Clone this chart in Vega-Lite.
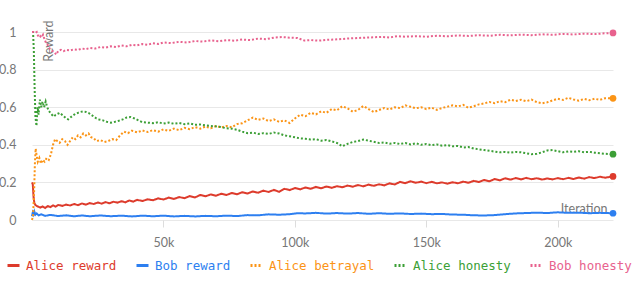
{
  "$schema": "https://vega.github.io/schema/vega-lite/v6.json",
  "width": 581,
  "height": 188,
  "autosize": {"type": "none"},
  "padding": {"left": 32, "top": 32, "right": 27, "bottom": 75},
  "background": "white",
  "config": {
    "view": {"stroke": null},
    "font": "Lato",
    "axis": {"labelColor": "#777777", "titleColor": "#777777", "labelFontSize": 12.5, "titleFontSize": 12.5, "titleFontWeight": "normal", "domain": false}
  },
  "data": {"values": [
    {"series":"Alice reward","it":0,"v":0.2},{"series":"Alice reward","it":300,"v":0.19},{"series":"Alice reward","it":600,"v":0.12},{"series":"Alice reward","it":900,"v":0.09},{"series":"Alice reward","it":1300,"v":0.08},{"series":"Alice reward","it":1800,"v":0.075},{"series":"Alice reward","it":2500,"v":0.07},{"series":"Alice reward","it":3200,"v":0.066},{"series":"Alice reward","it":4000,"v":0.072},{"series":"Alice reward","it":5000,"v":0.064},{"series":"Alice reward","it":6000,"v":0.074},{"series":"Alice reward","it":7000,"v":0.069},{"series":"Alice reward","it":8000,"v":0.078},{"series":"Alice reward","it":9000,"v":0.071},{"series":"Alice reward","it":10000,"v":0.08},{"series":"Alice reward","it":11500,"v":0.075},{"series":"Alice reward","it":13000,"v":0.082},{"series":"Alice reward","it":14500,"v":0.077},{"series":"Alice reward","it":16000,"v":0.085},{"series":"Alice reward","it":17500,"v":0.079},{"series":"Alice reward","it":19000,"v":0.088},{"series":"Alice reward","it":20500,"v":0.082},{"series":"Alice reward","it":22000,"v":0.09},{"series":"Alice reward","it":23500,"v":0.085},{"series":"Alice reward","it":25000,"v":0.093},{"series":"Alice reward","it":26500,"v":0.087},{"series":"Alice reward","it":28000,"v":0.095},{"series":"Alice reward","it":29500,"v":0.089},{"series":"Alice reward","it":31000,"v":0.097},{"series":"Alice reward","it":32500,"v":0.092},{"series":"Alice reward","it":34000,"v":0.1},{"series":"Alice reward","it":35500,"v":0.094},{"series":"Alice reward","it":37000,"v":0.104},{"series":"Alice reward","it":38500,"v":0.098},{"series":"Alice reward","it":40000,"v":0.107},{"series":"Alice reward","it":42000,"v":0.101},{"series":"Alice reward","it":44000,"v":0.11},{"series":"Alice reward","it":46000,"v":0.105},{"series":"Alice reward","it":48000,"v":0.115},{"series":"Alice reward","it":50000,"v":0.109},{"series":"Alice reward","it":52000,"v":0.119},{"series":"Alice reward","it":54000,"v":0.112},{"series":"Alice reward","it":56000,"v":0.122},{"series":"Alice reward","it":58000,"v":0.116},{"series":"Alice reward","it":60000,"v":0.127},{"series":"Alice reward","it":62000,"v":0.12},{"series":"Alice reward","it":64000,"v":0.133},{"series":"Alice reward","it":66000,"v":0.126},{"series":"Alice reward","it":68000,"v":0.136},{"series":"Alice reward","it":70000,"v":0.129},{"series":"Alice reward","it":72000,"v":0.14},{"series":"Alice reward","it":74000,"v":0.133},{"series":"Alice reward","it":76000,"v":0.144},{"series":"Alice reward","it":78000,"v":0.137},{"series":"Alice reward","it":80000,"v":0.148},{"series":"Alice reward","it":82000,"v":0.141},{"series":"Alice reward","it":84000,"v":0.152},{"series":"Alice reward","it":86000,"v":0.145},{"series":"Alice reward","it":88000,"v":0.156},{"series":"Alice reward","it":90000,"v":0.149},{"series":"Alice reward","it":92000,"v":0.16},{"series":"Alice reward","it":94000,"v":0.15},{"series":"Alice reward","it":96000,"v":0.166},{"series":"Alice reward","it":98000,"v":0.159},{"series":"Alice reward","it":100000,"v":0.17},{"series":"Alice reward","it":102000,"v":0.163},{"series":"Alice reward","it":104000,"v":0.173},{"series":"Alice reward","it":106000,"v":0.166},{"series":"Alice reward","it":108000,"v":0.176},{"series":"Alice reward","it":110000,"v":0.169},{"series":"Alice reward","it":112000,"v":0.178},{"series":"Alice reward","it":114000,"v":0.171},{"series":"Alice reward","it":116000,"v":0.18},{"series":"Alice reward","it":118000,"v":0.174},{"series":"Alice reward","it":120000,"v":0.183},{"series":"Alice reward","it":122000,"v":0.177},{"series":"Alice reward","it":124000,"v":0.186},{"series":"Alice reward","it":126000,"v":0.179},{"series":"Alice reward","it":128000,"v":0.188},{"series":"Alice reward","it":130000,"v":0.182},{"series":"Alice reward","it":132000,"v":0.19},{"series":"Alice reward","it":134000,"v":0.184},{"series":"Alice reward","it":136000,"v":0.195},{"series":"Alice reward","it":138000,"v":0.189},{"series":"Alice reward","it":140000,"v":0.203},{"series":"Alice reward","it":142000,"v":0.196},{"series":"Alice reward","it":144000,"v":0.206},{"series":"Alice reward","it":146000,"v":0.198},{"series":"Alice reward","it":148000,"v":0.204},{"series":"Alice reward","it":150000,"v":0.196},{"series":"Alice reward","it":152000,"v":0.203},{"series":"Alice reward","it":154000,"v":0.195},{"series":"Alice reward","it":156000,"v":0.2},{"series":"Alice reward","it":158000,"v":0.193},{"series":"Alice reward","it":160000,"v":0.201},{"series":"Alice reward","it":162000,"v":0.195},{"series":"Alice reward","it":164000,"v":0.204},{"series":"Alice reward","it":166000,"v":0.198},{"series":"Alice reward","it":168000,"v":0.208},{"series":"Alice reward","it":170000,"v":0.202},{"series":"Alice reward","it":172000,"v":0.213},{"series":"Alice reward","it":174000,"v":0.206},{"series":"Alice reward","it":176000,"v":0.218},{"series":"Alice reward","it":178000,"v":0.211},{"series":"Alice reward","it":180000,"v":0.222},{"series":"Alice reward","it":182000,"v":0.215},{"series":"Alice reward","it":184000,"v":0.223},{"series":"Alice reward","it":186000,"v":0.216},{"series":"Alice reward","it":188000,"v":0.224},{"series":"Alice reward","it":190000,"v":0.217},{"series":"Alice reward","it":192000,"v":0.222},{"series":"Alice reward","it":194000,"v":0.215},{"series":"Alice reward","it":196000,"v":0.221},{"series":"Alice reward","it":198000,"v":0.216},{"series":"Alice reward","it":200000,"v":0.223},{"series":"Alice reward","it":202000,"v":0.217},{"series":"Alice reward","it":204000,"v":0.224},{"series":"Alice reward","it":206000,"v":0.218},{"series":"Alice reward","it":208000,"v":0.226},{"series":"Alice reward","it":210000,"v":0.22},{"series":"Alice reward","it":212000,"v":0.228},{"series":"Alice reward","it":214000,"v":0.223},{"series":"Alice reward","it":216000,"v":0.23},{"series":"Alice reward","it":218000,"v":0.225},{"series":"Alice reward","it":221000,"v":0.232},

    {"series":"Bob reward","it":0,"v":0.02},{"series":"Bob reward","it":300,"v":0.04},{"series":"Bob reward","it":600,"v":0.03},{"series":"Bob reward","it":900,"v":0.045},{"series":"Bob reward","it":1300,"v":0.028},{"series":"Bob reward","it":1800,"v":0.035},{"series":"Bob reward","it":2500,"v":0.025},{"series":"Bob reward","it":3500,"v":0.03},{"series":"Bob reward","it":5000,"v":0.022},{"series":"Bob reward","it":7000,"v":0.027},{"series":"Bob reward","it":10000,"v":0.021},{"series":"Bob reward","it":13000,"v":0.025},{"series":"Bob reward","it":16000,"v":0.02},{"series":"Bob reward","it":19000,"v":0.024},{"series":"Bob reward","it":22000,"v":0.02},{"series":"Bob reward","it":26000,"v":0.024},{"series":"Bob reward","it":30000,"v":0.02},{"series":"Bob reward","it":34000,"v":0.023},{"series":"Bob reward","it":38000,"v":0.019},{"series":"Bob reward","it":42000,"v":0.023},{"series":"Bob reward","it":46000,"v":0.02},{"series":"Bob reward","it":50000,"v":0.023},{"series":"Bob reward","it":54000,"v":0.019},{"series":"Bob reward","it":58000,"v":0.022},{"series":"Bob reward","it":62000,"v":0.019},{"series":"Bob reward","it":66000,"v":0.022},{"series":"Bob reward","it":70000,"v":0.02},{"series":"Bob reward","it":74000,"v":0.023},{"series":"Bob reward","it":78000,"v":0.021},{"series":"Bob reward","it":82000,"v":0.026},{"series":"Bob reward","it":86000,"v":0.025},{"series":"Bob reward","it":90000,"v":0.03},{"series":"Bob reward","it":94000,"v":0.028},{"series":"Bob reward","it":98000,"v":0.031},{"series":"Bob reward","it":101000,"v":0.036},{"series":"Bob reward","it":104000,"v":0.035},{"series":"Bob reward","it":108000,"v":0.038},{"series":"Bob reward","it":112000,"v":0.034},{"series":"Bob reward","it":116000,"v":0.037},{"series":"Bob reward","it":120000,"v":0.034},{"series":"Bob reward","it":124000,"v":0.037},{"series":"Bob reward","it":128000,"v":0.033},{"series":"Bob reward","it":132000,"v":0.036},{"series":"Bob reward","it":136000,"v":0.033},{"series":"Bob reward","it":140000,"v":0.035},{"series":"Bob reward","it":144000,"v":0.032},{"series":"Bob reward","it":148000,"v":0.034},{"series":"Bob reward","it":152000,"v":0.031},{"series":"Bob reward","it":156000,"v":0.032},{"series":"Bob reward","it":160000,"v":0.029},{"series":"Bob reward","it":164000,"v":0.028},{"series":"Bob reward","it":168000,"v":0.025},{"series":"Bob reward","it":172000,"v":0.024},{"series":"Bob reward","it":176000,"v":0.026},{"series":"Bob reward","it":180000,"v":0.031},{"series":"Bob reward","it":184000,"v":0.035},{"series":"Bob reward","it":188000,"v":0.037},{"series":"Bob reward","it":192000,"v":0.039},{"series":"Bob reward","it":196000,"v":0.037},{"series":"Bob reward","it":200000,"v":0.041},{"series":"Bob reward","it":204000,"v":0.038},{"series":"Bob reward","it":208000,"v":0.039},{"series":"Bob reward","it":212000,"v":0.036},{"series":"Bob reward","it":216000,"v":0.038},{"series":"Bob reward","it":221000,"v":0.036},

    {"series":"Alice betrayal","it":0,"v":0.0},{"series":"Alice betrayal","it":400,"v":0.02},{"series":"Alice betrayal","it":800,"v":0.15},{"series":"Alice betrayal","it":1100,"v":0.3},{"series":"Alice betrayal","it":1400,"v":0.38},{"series":"Alice betrayal","it":1800,"v":0.34},{"series":"Alice betrayal","it":2200,"v":0.31},{"series":"Alice betrayal","it":2800,"v":0.33},{"series":"Alice betrayal","it":3400,"v":0.3},{"series":"Alice betrayal","it":4000,"v":0.32},{"series":"Alice betrayal","it":4800,"v":0.31},{"series":"Alice betrayal","it":5600,"v":0.33},{"series":"Alice betrayal","it":6400,"v":0.32},{"series":"Alice betrayal","it":7200,"v":0.35},{"series":"Alice betrayal","it":8000,"v":0.4},{"series":"Alice betrayal","it":8800,"v":0.43},{"series":"Alice betrayal","it":9600,"v":0.42},{"series":"Alice betrayal","it":10500,"v":0.41},{"series":"Alice betrayal","it":11500,"v":0.43},{"series":"Alice betrayal","it":12500,"v":0.42},{"series":"Alice betrayal","it":13500,"v":0.4},{"series":"Alice betrayal","it":14500,"v":0.42},{"series":"Alice betrayal","it":15500,"v":0.44},{"series":"Alice betrayal","it":16500,"v":0.43},{"series":"Alice betrayal","it":17500,"v":0.45},{"series":"Alice betrayal","it":18500,"v":0.44},{"series":"Alice betrayal","it":19500,"v":0.46},{"series":"Alice betrayal","it":20500,"v":0.45},{"series":"Alice betrayal","it":21500,"v":0.46},{"series":"Alice betrayal","it":22500,"v":0.44},{"series":"Alice betrayal","it":23500,"v":0.435},{"series":"Alice betrayal","it":24500,"v":0.42},{"series":"Alice betrayal","it":26000,"v":0.425},{"series":"Alice betrayal","it":27500,"v":0.415},{"series":"Alice betrayal","it":29000,"v":0.42},{"series":"Alice betrayal","it":30500,"v":0.43},{"series":"Alice betrayal","it":32000,"v":0.425},{"series":"Alice betrayal","it":33500,"v":0.45},{"series":"Alice betrayal","it":35000,"v":0.47},{"series":"Alice betrayal","it":36500,"v":0.462},{"series":"Alice betrayal","it":38000,"v":0.475},{"series":"Alice betrayal","it":40000,"v":0.466},{"series":"Alice betrayal","it":42000,"v":0.476},{"series":"Alice betrayal","it":44000,"v":0.468},{"series":"Alice betrayal","it":46000,"v":0.478},{"series":"Alice betrayal","it":48000,"v":0.47},{"series":"Alice betrayal","it":50000,"v":0.482},{"series":"Alice betrayal","it":52000,"v":0.474},{"series":"Alice betrayal","it":54000,"v":0.486},{"series":"Alice betrayal","it":56000,"v":0.478},{"series":"Alice betrayal","it":58000,"v":0.49},{"series":"Alice betrayal","it":60000,"v":0.483},{"series":"Alice betrayal","it":62000,"v":0.494},{"series":"Alice betrayal","it":64000,"v":0.486},{"series":"Alice betrayal","it":66000,"v":0.497},{"series":"Alice betrayal","it":68000,"v":0.488},{"series":"Alice betrayal","it":70000,"v":0.5},{"series":"Alice betrayal","it":72000,"v":0.492},{"series":"Alice betrayal","it":74000,"v":0.5},{"series":"Alice betrayal","it":76000,"v":0.493},{"series":"Alice betrayal","it":78000,"v":0.51},{"series":"Alice betrayal","it":80000,"v":0.515},{"series":"Alice betrayal","it":82000,"v":0.53},{"series":"Alice betrayal","it":84000,"v":0.545},{"series":"Alice betrayal","it":86000,"v":0.532},{"series":"Alice betrayal","it":88000,"v":0.54},{"series":"Alice betrayal","it":90000,"v":0.526},{"series":"Alice betrayal","it":92000,"v":0.535},{"series":"Alice betrayal","it":94000,"v":0.522},{"series":"Alice betrayal","it":96000,"v":0.53},{"series":"Alice betrayal","it":98000,"v":0.516},{"series":"Alice betrayal","it":100000,"v":0.54},{"series":"Alice betrayal","it":102000,"v":0.56},{"series":"Alice betrayal","it":104000,"v":0.552},{"series":"Alice betrayal","it":106000,"v":0.57},{"series":"Alice betrayal","it":108000,"v":0.562},{"series":"Alice betrayal","it":110000,"v":0.578},{"series":"Alice betrayal","it":112000,"v":0.57},{"series":"Alice betrayal","it":114000,"v":0.59},{"series":"Alice betrayal","it":116000,"v":0.583},{"series":"Alice betrayal","it":118000,"v":0.605},{"series":"Alice betrayal","it":120000,"v":0.594},{"series":"Alice betrayal","it":122000,"v":0.576},{"series":"Alice betrayal","it":124000,"v":0.585},{"series":"Alice betrayal","it":126000,"v":0.606},{"series":"Alice betrayal","it":128000,"v":0.59},{"series":"Alice betrayal","it":130000,"v":0.574},{"series":"Alice betrayal","it":132000,"v":0.585},{"series":"Alice betrayal","it":134000,"v":0.596},{"series":"Alice betrayal","it":136000,"v":0.588},{"series":"Alice betrayal","it":138000,"v":0.6},{"series":"Alice betrayal","it":140000,"v":0.595},{"series":"Alice betrayal","it":142000,"v":0.61},{"series":"Alice betrayal","it":144000,"v":0.602},{"series":"Alice betrayal","it":146000,"v":0.594},{"series":"Alice betrayal","it":148000,"v":0.6},{"series":"Alice betrayal","it":150000,"v":0.59},{"series":"Alice betrayal","it":152000,"v":0.598},{"series":"Alice betrayal","it":154000,"v":0.586},{"series":"Alice betrayal","it":156000,"v":0.596},{"series":"Alice betrayal","it":158000,"v":0.603},{"series":"Alice betrayal","it":160000,"v":0.61},{"series":"Alice betrayal","it":162000,"v":0.604},{"series":"Alice betrayal","it":164000,"v":0.612},{"series":"Alice betrayal","it":166000,"v":0.597},{"series":"Alice betrayal","it":168000,"v":0.605},{"series":"Alice betrayal","it":170000,"v":0.615},{"series":"Alice betrayal","it":172000,"v":0.62},{"series":"Alice betrayal","it":174000,"v":0.628},{"series":"Alice betrayal","it":176000,"v":0.621},{"series":"Alice betrayal","it":178000,"v":0.632},{"series":"Alice betrayal","it":180000,"v":0.627},{"series":"Alice betrayal","it":182000,"v":0.64},{"series":"Alice betrayal","it":184000,"v":0.633},{"series":"Alice betrayal","it":186000,"v":0.64},{"series":"Alice betrayal","it":188000,"v":0.632},{"series":"Alice betrayal","it":190000,"v":0.64},{"series":"Alice betrayal","it":192000,"v":0.627},{"series":"Alice betrayal","it":194000,"v":0.621},{"series":"Alice betrayal","it":196000,"v":0.626},{"series":"Alice betrayal","it":198000,"v":0.636},{"series":"Alice betrayal","it":200000,"v":0.645},{"series":"Alice betrayal","it":202000,"v":0.639},{"series":"Alice betrayal","it":204000,"v":0.65},{"series":"Alice betrayal","it":206000,"v":0.641},{"series":"Alice betrayal","it":208000,"v":0.635},{"series":"Alice betrayal","it":210000,"v":0.644},{"series":"Alice betrayal","it":212000,"v":0.637},{"series":"Alice betrayal","it":214000,"v":0.645},{"series":"Alice betrayal","it":216000,"v":0.639},{"series":"Alice betrayal","it":218000,"v":0.648},{"series":"Alice betrayal","it":221000,"v":0.647},

    {"series":"Alice honesty","it":0,"v":1.0},{"series":"Alice honesty","it":400,"v":1.0},{"series":"Alice honesty","it":700,"v":0.9},{"series":"Alice honesty","it":1000,"v":0.7},{"series":"Alice honesty","it":1300,"v":0.55},{"series":"Alice honesty","it":1700,"v":0.5},{"series":"Alice honesty","it":2100,"v":0.6},{"series":"Alice honesty","it":2500,"v":0.56},{"series":"Alice honesty","it":3000,"v":0.64},{"series":"Alice honesty","it":3500,"v":0.6},{"series":"Alice honesty","it":4000,"v":0.63},{"series":"Alice honesty","it":4600,"v":0.6},{"series":"Alice honesty","it":5200,"v":0.63},{"series":"Alice honesty","it":5800,"v":0.6},{"series":"Alice honesty","it":6400,"v":0.58},{"series":"Alice honesty","it":7000,"v":0.57},{"series":"Alice honesty","it":7600,"v":0.56},{"series":"Alice honesty","it":8300,"v":0.55},{"series":"Alice honesty","it":9000,"v":0.56},{"series":"Alice honesty","it":9800,"v":0.565},{"series":"Alice honesty","it":10600,"v":0.57},{"series":"Alice honesty","it":11400,"v":0.56},{"series":"Alice honesty","it":12200,"v":0.55},{"series":"Alice honesty","it":13000,"v":0.54},{"series":"Alice honesty","it":13800,"v":0.535},{"series":"Alice honesty","it":14600,"v":0.545},{"series":"Alice honesty","it":15500,"v":0.555},{"series":"Alice honesty","it":16500,"v":0.565},{"series":"Alice honesty","it":17500,"v":0.57},{"series":"Alice honesty","it":18500,"v":0.575},{"series":"Alice honesty","it":19500,"v":0.578},{"series":"Alice honesty","it":20500,"v":0.575},{"series":"Alice honesty","it":21500,"v":0.57},{"series":"Alice honesty","it":22500,"v":0.56},{"series":"Alice honesty","it":23500,"v":0.55},{"series":"Alice honesty","it":24500,"v":0.54},{"series":"Alice honesty","it":25500,"v":0.535},{"series":"Alice honesty","it":27000,"v":0.53},{"series":"Alice honesty","it":28500,"v":0.522},{"series":"Alice honesty","it":30000,"v":0.518},{"series":"Alice honesty","it":31500,"v":0.522},{"series":"Alice honesty","it":33000,"v":0.528},{"series":"Alice honesty","it":34500,"v":0.535},{"series":"Alice honesty","it":36000,"v":0.545},{"series":"Alice honesty","it":37500,"v":0.548},{"series":"Alice honesty","it":39000,"v":0.54},{"series":"Alice honesty","it":40500,"v":0.53},{"series":"Alice honesty","it":42000,"v":0.52},{"series":"Alice honesty","it":44000,"v":0.518},{"series":"Alice honesty","it":46000,"v":0.515},{"series":"Alice honesty","it":48000,"v":0.52},{"series":"Alice honesty","it":50000,"v":0.513},{"series":"Alice honesty","it":52000,"v":0.518},{"series":"Alice honesty","it":54000,"v":0.512},{"series":"Alice honesty","it":56000,"v":0.516},{"series":"Alice honesty","it":58000,"v":0.51},{"series":"Alice honesty","it":60000,"v":0.514},{"series":"Alice honesty","it":62000,"v":0.506},{"series":"Alice honesty","it":64000,"v":0.508},{"series":"Alice honesty","it":66000,"v":0.503},{"series":"Alice honesty","it":68000,"v":0.5},{"series":"Alice honesty","it":70000,"v":0.498},{"series":"Alice honesty","it":72000,"v":0.494},{"series":"Alice honesty","it":74000,"v":0.488},{"series":"Alice honesty","it":76000,"v":0.486},{"series":"Alice honesty","it":78000,"v":0.48},{"series":"Alice honesty","it":80000,"v":0.47},{"series":"Alice honesty","it":82000,"v":0.462},{"series":"Alice honesty","it":84000,"v":0.465},{"series":"Alice honesty","it":86000,"v":0.458},{"series":"Alice honesty","it":88000,"v":0.462},{"series":"Alice honesty","it":90000,"v":0.458},{"series":"Alice honesty","it":92000,"v":0.465},{"series":"Alice honesty","it":94000,"v":0.46},{"series":"Alice honesty","it":96000,"v":0.45},{"series":"Alice honesty","it":98000,"v":0.445},{"series":"Alice honesty","it":100000,"v":0.44},{"series":"Alice honesty","it":102000,"v":0.434},{"series":"Alice honesty","it":104000,"v":0.432},{"series":"Alice honesty","it":106000,"v":0.428},{"series":"Alice honesty","it":108000,"v":0.43},{"series":"Alice honesty","it":110000,"v":0.422},{"series":"Alice honesty","it":112000,"v":0.426},{"series":"Alice honesty","it":114000,"v":0.418},{"series":"Alice honesty","it":116000,"v":0.41},{"series":"Alice honesty","it":118000,"v":0.392},{"series":"Alice honesty","it":120000,"v":0.405},{"series":"Alice honesty","it":122000,"v":0.415},{"series":"Alice honesty","it":124000,"v":0.42},{"series":"Alice honesty","it":126000,"v":0.428},{"series":"Alice honesty","it":128000,"v":0.422},{"series":"Alice honesty","it":130000,"v":0.416},{"series":"Alice honesty","it":132000,"v":0.41},{"series":"Alice honesty","it":134000,"v":0.412},{"series":"Alice honesty","it":136000,"v":0.406},{"series":"Alice honesty","it":138000,"v":0.41},{"series":"Alice honesty","it":140000,"v":0.404},{"series":"Alice honesty","it":142000,"v":0.41},{"series":"Alice honesty","it":144000,"v":0.402},{"series":"Alice honesty","it":146000,"v":0.408},{"series":"Alice honesty","it":148000,"v":0.4},{"series":"Alice honesty","it":150000,"v":0.404},{"series":"Alice honesty","it":152000,"v":0.398},{"series":"Alice honesty","it":154000,"v":0.402},{"series":"Alice honesty","it":156000,"v":0.395},{"series":"Alice honesty","it":158000,"v":0.398},{"series":"Alice honesty","it":160000,"v":0.392},{"series":"Alice honesty","it":162000,"v":0.394},{"series":"Alice honesty","it":164000,"v":0.386},{"series":"Alice honesty","it":166000,"v":0.388},{"series":"Alice honesty","it":168000,"v":0.38},{"series":"Alice honesty","it":170000,"v":0.376},{"series":"Alice honesty","it":172000,"v":0.372},{"series":"Alice honesty","it":174000,"v":0.368},{"series":"Alice honesty","it":176000,"v":0.364},{"series":"Alice honesty","it":178000,"v":0.36},{"series":"Alice honesty","it":180000,"v":0.362},{"series":"Alice honesty","it":182000,"v":0.358},{"series":"Alice honesty","it":184000,"v":0.362},{"series":"Alice honesty","it":186000,"v":0.36},{"series":"Alice honesty","it":188000,"v":0.355},{"series":"Alice honesty","it":190000,"v":0.35},{"series":"Alice honesty","it":192000,"v":0.352},{"series":"Alice honesty","it":194000,"v":0.36},{"series":"Alice honesty","it":196000,"v":0.37},{"series":"Alice honesty","it":198000,"v":0.372},{"series":"Alice honesty","it":200000,"v":0.366},{"series":"Alice honesty","it":202000,"v":0.36},{"series":"Alice honesty","it":204000,"v":0.365},{"series":"Alice honesty","it":206000,"v":0.362},{"series":"Alice honesty","it":208000,"v":0.366},{"series":"Alice honesty","it":210000,"v":0.36},{"series":"Alice honesty","it":212000,"v":0.363},{"series":"Alice honesty","it":214000,"v":0.358},{"series":"Alice honesty","it":216000,"v":0.355},{"series":"Alice honesty","it":218000,"v":0.352},{"series":"Alice honesty","it":221000,"v":0.35},

    {"series":"Bob honesty","it":0,"v":1.0},{"series":"Bob honesty","it":600,"v":1.0},{"series":"Bob honesty","it":1200,"v":0.995},{"series":"Bob honesty","it":1800,"v":1.0},{"series":"Bob honesty","it":2400,"v":0.975},{"series":"Bob honesty","it":3000,"v":0.98},{"series":"Bob honesty","it":3600,"v":0.97},{"series":"Bob honesty","it":4200,"v":0.985},{"series":"Bob honesty","it":4800,"v":0.96},{"series":"Bob honesty","it":5400,"v":0.94},{"series":"Bob honesty","it":6000,"v":0.93},{"series":"Bob honesty","it":6800,"v":0.91},{"series":"Bob honesty","it":7600,"v":0.9},{"series":"Bob honesty","it":8400,"v":0.895},{"series":"Bob honesty","it":9200,"v":0.88},{"series":"Bob honesty","it":10000,"v":0.9},{"series":"Bob honesty","it":11000,"v":0.905},{"series":"Bob honesty","it":12000,"v":0.898},{"series":"Bob honesty","it":13000,"v":0.905},{"series":"Bob honesty","it":14500,"v":0.902},{"series":"Bob honesty","it":16000,"v":0.908},{"series":"Bob honesty","it":17500,"v":0.905},{"series":"Bob honesty","it":19000,"v":0.912},{"series":"Bob honesty","it":20500,"v":0.909},{"series":"Bob honesty","it":22000,"v":0.915},{"series":"Bob honesty","it":24000,"v":0.912},{"series":"Bob honesty","it":26000,"v":0.92},{"series":"Bob honesty","it":28000,"v":0.917},{"series":"Bob honesty","it":30000,"v":0.924},{"series":"Bob honesty","it":32000,"v":0.92},{"series":"Bob honesty","it":34000,"v":0.928},{"series":"Bob honesty","it":36000,"v":0.924},{"series":"Bob honesty","it":38000,"v":0.932},{"series":"Bob honesty","it":40000,"v":0.929},{"series":"Bob honesty","it":42000,"v":0.936},{"series":"Bob honesty","it":44000,"v":0.932},{"series":"Bob honesty","it":46000,"v":0.94},{"series":"Bob honesty","it":48000,"v":0.936},{"series":"Bob honesty","it":50000,"v":0.944},{"series":"Bob honesty","it":53000,"v":0.941},{"series":"Bob honesty","it":56000,"v":0.948},{"series":"Bob honesty","it":59000,"v":0.944},{"series":"Bob honesty","it":62000,"v":0.952},{"series":"Bob honesty","it":65000,"v":0.949},{"series":"Bob honesty","it":68000,"v":0.955},{"series":"Bob honesty","it":71000,"v":0.951},{"series":"Bob honesty","it":74000,"v":0.957},{"series":"Bob honesty","it":77000,"v":0.954},{"series":"Bob honesty","it":80000,"v":0.96},{"series":"Bob honesty","it":83000,"v":0.957},{"series":"Bob honesty","it":86000,"v":0.965},{"series":"Bob honesty","it":89000,"v":0.962},{"series":"Bob honesty","it":92000,"v":0.97},{"series":"Bob honesty","it":95000,"v":0.973},{"series":"Bob honesty","it":98000,"v":0.97},{"series":"Bob honesty","it":101000,"v":0.968},{"series":"Bob honesty","it":103500,"v":0.955},{"series":"Bob honesty","it":106000,"v":0.957},{"series":"Bob honesty","it":109000,"v":0.954},{"series":"Bob honesty","it":112000,"v":0.958},{"series":"Bob honesty","it":115000,"v":0.96},{"series":"Bob honesty","it":118000,"v":0.963},{"series":"Bob honesty","it":121000,"v":0.966},{"series":"Bob honesty","it":124000,"v":0.968},{"series":"Bob honesty","it":127000,"v":0.97},{"series":"Bob honesty","it":130000,"v":0.972},{"series":"Bob honesty","it":133000,"v":0.974},{"series":"Bob honesty","it":136000,"v":0.971},{"series":"Bob honesty","it":139000,"v":0.978},{"series":"Bob honesty","it":142000,"v":0.975},{"series":"Bob honesty","it":146000,"v":0.978},{"series":"Bob honesty","it":150000,"v":0.975},{"series":"Bob honesty","it":154000,"v":0.98},{"series":"Bob honesty","it":158000,"v":0.977},{"series":"Bob honesty","it":162000,"v":0.982},{"series":"Bob honesty","it":166000,"v":0.979},{"series":"Bob honesty","it":170000,"v":0.983},{"series":"Bob honesty","it":174000,"v":0.98},{"series":"Bob honesty","it":178000,"v":0.985},{"series":"Bob honesty","it":182000,"v":0.982},{"series":"Bob honesty","it":186000,"v":0.986},{"series":"Bob honesty","it":190000,"v":0.983},{"series":"Bob honesty","it":194000,"v":0.988},{"series":"Bob honesty","it":198000,"v":0.985},{"series":"Bob honesty","it":202000,"v":0.99},{"series":"Bob honesty","it":206000,"v":0.987},{"series":"Bob honesty","it":210000,"v":0.991},{"series":"Bob honesty","it":214000,"v":0.989},{"series":"Bob honesty","it":218000,"v":0.993},{"series":"Bob honesty","it":221000,"v":0.995}
  ]},
  "encoding": {
    "x": {"field": "it", "type": "quantitative",
      "scale": {"domain": [0, 221000], "nice": false},
      "axis": {"values": [50000, 100000, 150000, 200000], "format": "~s", "grid": false, "ticks": true, "tickSize": 7, "tickColor": "#dddddd", "labelPadding": 9,
        "title": "Iteration", "titleX": 575, "titleY": -8, "titleAlign": "right", "titleBaseline": "alphabetic", "titleAngle": 0}},
    "y": {"field": "v", "type": "quantitative",
      "scale": {"domain": [0, 1], "nice": false},
      "axis": {"values": [0, 0.2, 0.4, 0.6, 0.8, 1], "format": "~g", "grid": true, "gridColor": "#e8e8e8", "ticks": false, "tickSize": 0, "labelPadding": 16,
        "title": "Reward", "titleX": 20, "titleY": -12, "titleAngle": -90, "titleAlign": "right", "titleBaseline": "alphabetic"}},
    "color": {"field": "series", "type": "nominal",
      "scale": {"domain": ["Alice reward", "Bob reward", "Alice betrayal", "Alice honesty", "Bob honesty"],
                "range": ["#dd3b2c", "#2d7ff0", "#fb9416", "#3c9f36", "#e8628e"]},
      "legend": {"orient": "none", "legendX": -26, "legendY": 226, "direction": "horizontal", "columns": 5, "title": null,
        "labelFont": "DejaVu Sans Mono", "labelFontSize": 12.5, "symbolType": "stroke", "symbolSize": 144, "symbolStrokeWidth": 3,
        "labelOffset": 5, "columnPadding": 13,
        "encode": {"labels": {"update": {"fill": {"scale": "color", "field": "value"}}}}}},
    "strokeDash": {"field": "series", "type": "nominal",
      "scale": {"domain": ["Alice reward", "Bob reward", "Alice betrayal", "Alice honesty", "Bob honesty"],
                "range": [[1, 0], [1, 0], [2, 2], [2, 2], [2, 2]]}}
  },
  "layer": [
    {"mark": {"type": "line", "strokeWidth": 2, "interpolate": "linear"}},
    {"transform": [
      {"joinaggregate": [{"op": "max", "field": "it", "as": "lastIt"}], "groupby": ["series"]},
      {"filter": "datum.it == datum.lastIt"}
    ],
     "mark": {"type": "point", "filled": true, "size": 45, "opacity": 1},
     "encoding": {"strokeDash": {"value": [1, 0]}}}
  ]
}
